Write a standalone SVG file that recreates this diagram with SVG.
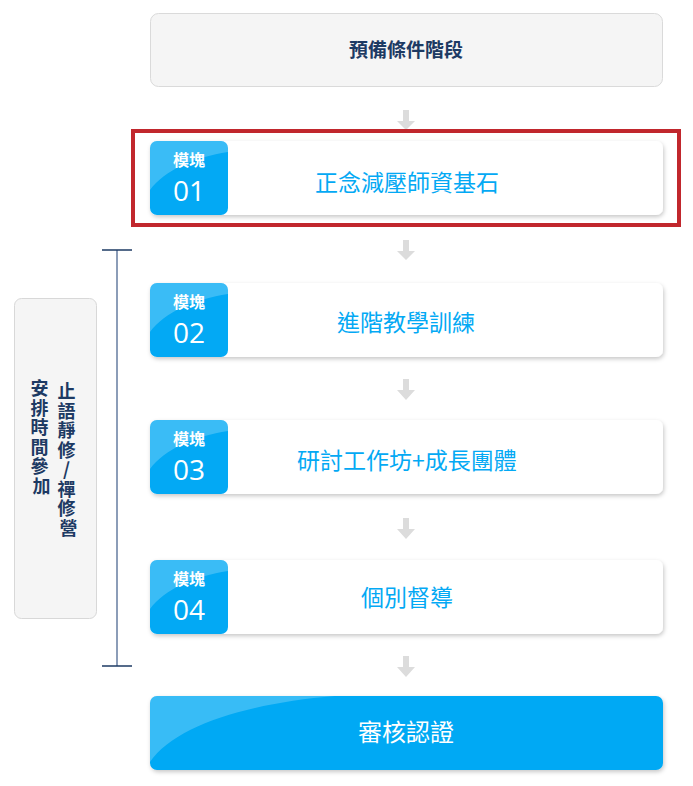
<svg xmlns="http://www.w3.org/2000/svg" width="693" height="786" viewBox="0 0 693 786">
<style>
.cjk{font-family:"Noto Sans CJK TC","Noto Sans CJK SC",sans-serif}
.card{fill:#ffffff}
.badge{fill:#03a9f4}
.gloss{fill:#ffffff;opacity:0.22}
.lbl{font-size:16px;font-weight:bold;fill:#ffffff;text-anchor:middle}
.num{font-family:"Open Sans","Noto Sans",sans-serif;font-size:28px;fill:#ffffff;text-anchor:middle}
.title{font-size:23px;fill:#03a9f4;text-anchor:middle}
.navy{fill:#1d3a63;font-weight:bold}
.arrow{fill:#dcdcdc}
</style>
<defs>
<filter id="sh" x="-5%" y="-20%" width="110%" height="150%">
<feDropShadow dx="1" dy="2" stdDeviation="2.2" flood-color="#000" flood-opacity="0.22"/>
</filter>
<clipPath id="cb1"><rect x="150" y="141" width="78" height="74" rx="7"/></clipPath>
<clipPath id="cb2"><rect x="150" y="283" width="78" height="74" rx="7"/></clipPath>
<clipPath id="cb3"><rect x="150" y="420" width="78" height="74" rx="7"/></clipPath>
<clipPath id="cb4"><rect x="150" y="560" width="78" height="74" rx="7"/></clipPath>
<clipPath id="cfin"><rect x="150" y="696" width="513" height="74" rx="7"/></clipPath>
</defs>

<g id="connectors">
<path class="arrow" d="M403,110 h6 v11 h6 l-9,9 l-9,-9 h6 z"/>
<path class="arrow" d="M403,240 h6 v11 h6 l-9,9 l-9,-9 h6 z"/>
<path class="arrow" d="M403,379 h6 v11 h6 l-9,10 l-9,-10 h6 z"/>
<path class="arrow" d="M403,518 h6 v11 h6 l-9,10 l-9,-10 h6 z"/>
<path class="arrow" d="M403,656 h6 v11 h6 l-9,10 l-9,-10 h6 z"/>
</g>

<g id="bracket">
<line x1="117" y1="250" x2="117" y2="666" stroke="#8c9db8" stroke-width="2"/>
<line x1="102" y1="250" x2="132" y2="250" stroke="#1d3a63" stroke-width="1.5"/>
<line x1="102" y1="666" x2="132" y2="666" stroke="#1d3a63" stroke-width="1.5"/>
</g>

<g id="prereq">
<rect x="150.5" y="13.5" width="512" height="73" rx="8" fill="#f5f5f5" stroke="#dadada"/>
<text class="cjk navy" x="406" y="57" font-size="19" text-anchor="middle">預備條件階段</text>
</g>

<g id="highlight">
<rect x="133" y="131" width="546" height="94" fill="none" stroke="#c1272d" stroke-width="4"/>
</g>

<g id="module1">
<rect class="card" x="150" y="141" width="513" height="74" rx="7" filter="url(#sh)"/>
<g clip-path="url(#cb1)">
<rect class="badge" x="150" y="141" width="78" height="74"/>
<path class="gloss" d="M150,141 H228 V152 C195,157 165,170 150,190 Z"/>
</g>
<text class="cjk lbl" x="189" y="166">模塊</text>
<text class="num" x="189" y="201">01</text>
<text class="cjk title" x="407" y="191">正念減壓師資基石</text>
</g>

<g id="module2">
<rect class="card" x="150" y="283" width="513" height="74" rx="7" filter="url(#sh)"/>
<g clip-path="url(#cb2)">
<rect class="badge" x="150" y="283" width="78" height="74"/>
<path class="gloss" d="M150,283 H228 V294 C195,299 165,312 150,332 Z"/>
</g>
<text class="cjk lbl" x="189" y="308">模塊</text>
<text class="num" x="189" y="343">02</text>
<text class="cjk title" x="406" y="331">進階教學訓練</text>
</g>

<g id="module3">
<rect class="card" x="150" y="420" width="513" height="74" rx="7" filter="url(#sh)"/>
<g clip-path="url(#cb3)">
<rect class="badge" x="150" y="420" width="78" height="74"/>
<path class="gloss" d="M150,420 H228 V431 C195,436 165,449 150,469 Z"/>
</g>
<text class="cjk lbl" x="189" y="445">模塊</text>
<text class="num" x="189" y="480">03</text>
<text class="cjk title" x="407" y="469">研討工作坊+成長團體</text>
</g>

<g id="module4">
<rect class="card" x="150" y="560" width="513" height="74" rx="7" filter="url(#sh)"/>
<g clip-path="url(#cb4)">
<rect class="badge" x="150" y="560" width="78" height="74"/>
<path class="gloss" d="M150,560 H228 V571 C195,576 165,589 150,609 Z"/>
</g>
<text class="cjk lbl" x="189" y="585">模塊</text>
<text class="num" x="189" y="620">04</text>
<text class="cjk title" x="407" y="606">個別督導</text>
</g>

<g id="certify">
<rect class="badge" x="150" y="696" width="513" height="74" rx="7" filter="url(#sh)"/>
<g clip-path="url(#cfin)">
<path class="gloss" d="M150,696 H335 C250,703 175,725 150,762 Z"/>
</g>
<text class="cjk" x="406" y="741" font-size="24" fill="#ffffff" text-anchor="middle">審核認證</text>
</g>

<g id="retreat">
<rect x="14.5" y="298.5" width="82" height="320" rx="7" fill="#f5f5f5" stroke="#d8d8d8"/>
<text class="cjk navy" font-size="18" text-anchor="middle">
<tspan x="68.5" y="398">止</tspan>
<tspan x="68.5" y="417.5">語</tspan>
<tspan x="68.5" y="437">靜</tspan>
<tspan x="68.5" y="456.5">修</tspan>
<tspan x="68.5" y="476">/</tspan>
<tspan x="68.5" y="495.5">禪</tspan>
<tspan x="68.5" y="515">修</tspan>
<tspan x="68.5" y="534.5">營</tspan>
</text>
<text class="cjk navy" font-size="18" text-anchor="middle">
<tspan x="41.5" y="395">安</tspan>
<tspan x="41.5" y="414.5">排</tspan>
<tspan x="41.5" y="434">時</tspan>
<tspan x="41.5" y="453.5">間</tspan>
<tspan x="41.5" y="473">參</tspan>
<tspan x="41.5" y="492.5">加</tspan>
</text>
</g>
</svg>
